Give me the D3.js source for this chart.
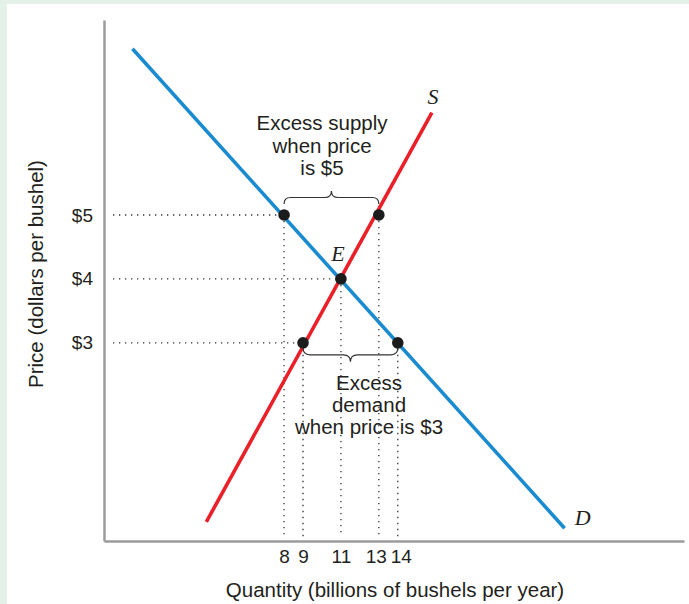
<!DOCTYPE html>
<html>
<head>
<meta charset="utf-8">
<script src="https://cdn.jsdelivr.net/npm/d3@7"></script>
<style>
  html, body { margin: 0; padding: 0; background: #e3f1e8; }
  svg { display: block; }
</style>
</head>
<body>
<script>
// ---------- data ----------
const priceTicks = [3, 4, 5];
const priceLabels = ["$3", "$4", "$5"];
const qtyTicks = [8, 9, 11, 13, 14];
const qtyLabels = ["8", "9", "11", "13", "14"];

const demandQ = [0, 22.8];
const demandP = [7.6, 0.1];
const supplyQ = [3.9, 15.8];
const supplyP = [0.2, 6.6];

const pointQ = [8, 13, 11, 9, 14];
const pointP = [5, 5, 4, 3, 3];

const xTitle = "Quantity (billions of bushels per year)";
const yTitle = "Price (dollars per bushel)";
const supplyNote = ["Excess supply", "when price", "is $5"];
const demandNote = ["Excess", "demand", "when price is $3"];

// ---------- layout ----------
const W = 689, H = 604;
const svg = d3.select("body").append("svg").attr("width", W).attr("height", H);

svg.append("rect").attr("x", 7).attr("y", 4).attr("width", W - 7).attr("height", H - 4).attr("fill", "#fff");

const x = d3.scaleLinear().domain([-1.5, 29.1]).range([104, 684]);
const y = d3.scaleLinear().domain([-0.1, 8.05]).range([541, 20]);

const sans = "'Liberation Sans', Arial, Helvetica, sans-serif";
const serif = "'Liberation Serif', 'DejaVu Serif', serif";
const txt = "#231f20";
const axisCol = "#9b9b9b";

// dotted guides
const pts = pointQ.map((q, i) => ({ q, p: pointP[i] }));
const guides = svg.append("g").attr("stroke", "#333").attr("stroke-width", 1.3)
  .attr("stroke-dasharray", "1.3,4.7").attr("stroke-linecap", "butt");
priceTicks.forEach(p => {
  const qs = pts.filter(d => d.p === p).map(d => d.q);
  guides.append("line").attr("x1", x.range()[0] + 9).attr("x2", x(d3.min(qs)))
    .attr("y1", y(p)).attr("y2", y(p));
});
pts.forEach(d => {
  guides.append("line").attr("x1", x(d.q)).attr("x2", x(d.q))
    .attr("y1", y(d.p)).attr("y2", y.range()[0] - 4);
});

// axes
const xAxis = svg.append("g").attr("transform", `translate(0,${y.range()[0]})`)
  .call(d3.axisBottom(x).tickValues(qtyTicks).tickFormat((d, i) => qtyLabels[i])
    .tickSize(0).tickSizeOuter(0).tickPadding(9));
const yAxis = svg.append("g").attr("transform", `translate(${x.range()[0]},0)`)
  .call(d3.axisLeft(y).tickValues(priceTicks).tickFormat((d, i) => priceLabels[i])
    .tickSize(0).tickSizeOuter(0).tickPadding(11));
[xAxis, yAxis].forEach(a => {
  a.select(".domain").attr("stroke", axisCol).attr("stroke-width", 2.5);
  a.selectAll("text").attr("font-family", sans).attr("font-size", 19).attr("fill", txt);
});
// keep the close "13" and "14" labels apart
xAxis.selectAll(".tick text").attr("dx", d => d === 13 ? -3 : d === 14 ? 3 : 0);

// curves
const line = d3.line().x(d => x(d[0])).y(d => y(d[1]));
svg.append("path").datum(demandQ.map((q, i) => [q, demandP[i]]))
  .attr("d", line).attr("stroke", "#1b8bd0").attr("stroke-width", 3.6).attr("fill", "none");
svg.append("path").datum(supplyQ.map((q, i) => [q, supplyP[i]]))
  .attr("d", line).attr("stroke", "#ea1f28").attr("stroke-width", 3.6).attr("fill", "none");

// points
svg.append("g").selectAll("circle").data(pts).join("circle")
  .attr("cx", d => x(d.q)).attr("cy", d => y(d.p)).attr("r", 5.8).attr("fill", "#1c1c1c");

// braces
function brace(x1, x2, y0, h) {
  const s = Math.abs(h) / 2, v = -h / 2, xm = (x1 + x2) / 2;
  return `M${x1},${y0} q0,${v} ${s},${v} L${xm - s},${y0 + v} q${s},0 ${s},${v} ` +
         `q0,${-v} ${s},${-v} L${x2 - s},${y0 + v} q${s},0 ${s},${-v}`;
}
svg.append("path").attr("d", brace(x(8), x(13), y(5) - 11, 13))
  .attr("fill", "none").attr("stroke", "#333").attr("stroke-width", 1.2);
svg.append("path").attr("d", brace(x(9), x(14), y(3) + 5, -14))
  .attr("fill", "none").attr("stroke", "#333").attr("stroke-width", 1.2);

// notes
function note(lines, cx, cy0, lh) {
  const t = svg.append("text").attr("font-family", sans).attr("font-size", 20.5)
    .attr("fill", txt).attr("text-anchor", "middle");
  lines.forEach((l, i) => t.append("tspan").attr("x", cx).attr("y", cy0 + i * lh).text(l));
}
note(supplyNote, 322, 130, 22.5);
note(demandNote, 369, 390, 22);

// curve labels
const lab = (t, px, py) => svg.append("text").attr("x", px).attr("y", py).text(t)
  .attr("font-family", serif).attr("font-style", "italic").attr("font-size", 22)
  .attr("fill", txt).attr("text-anchor", "middle");
lab("S", x(supplyQ[1]) + 1, y(supplyP[1]) - 9);
lab("E", x(11) - 3, y(4) - 18);
lab("D", x(demandQ[1]) + 18, y(demandP[1]) - 3);

// axis titles
svg.append("text").attr("x", 395).attr("y", 597).text(xTitle)
  .attr("font-family", sans).attr("font-size", 20.5).attr("fill", txt).attr("text-anchor", "middle");
svg.append("text").attr("transform", `translate(43,274) rotate(-90)`).text(yTitle)
  .attr("font-family", sans).attr("font-size", 20.5).attr("fill", txt).attr("text-anchor", "middle");
</script>
</body>
</html>
